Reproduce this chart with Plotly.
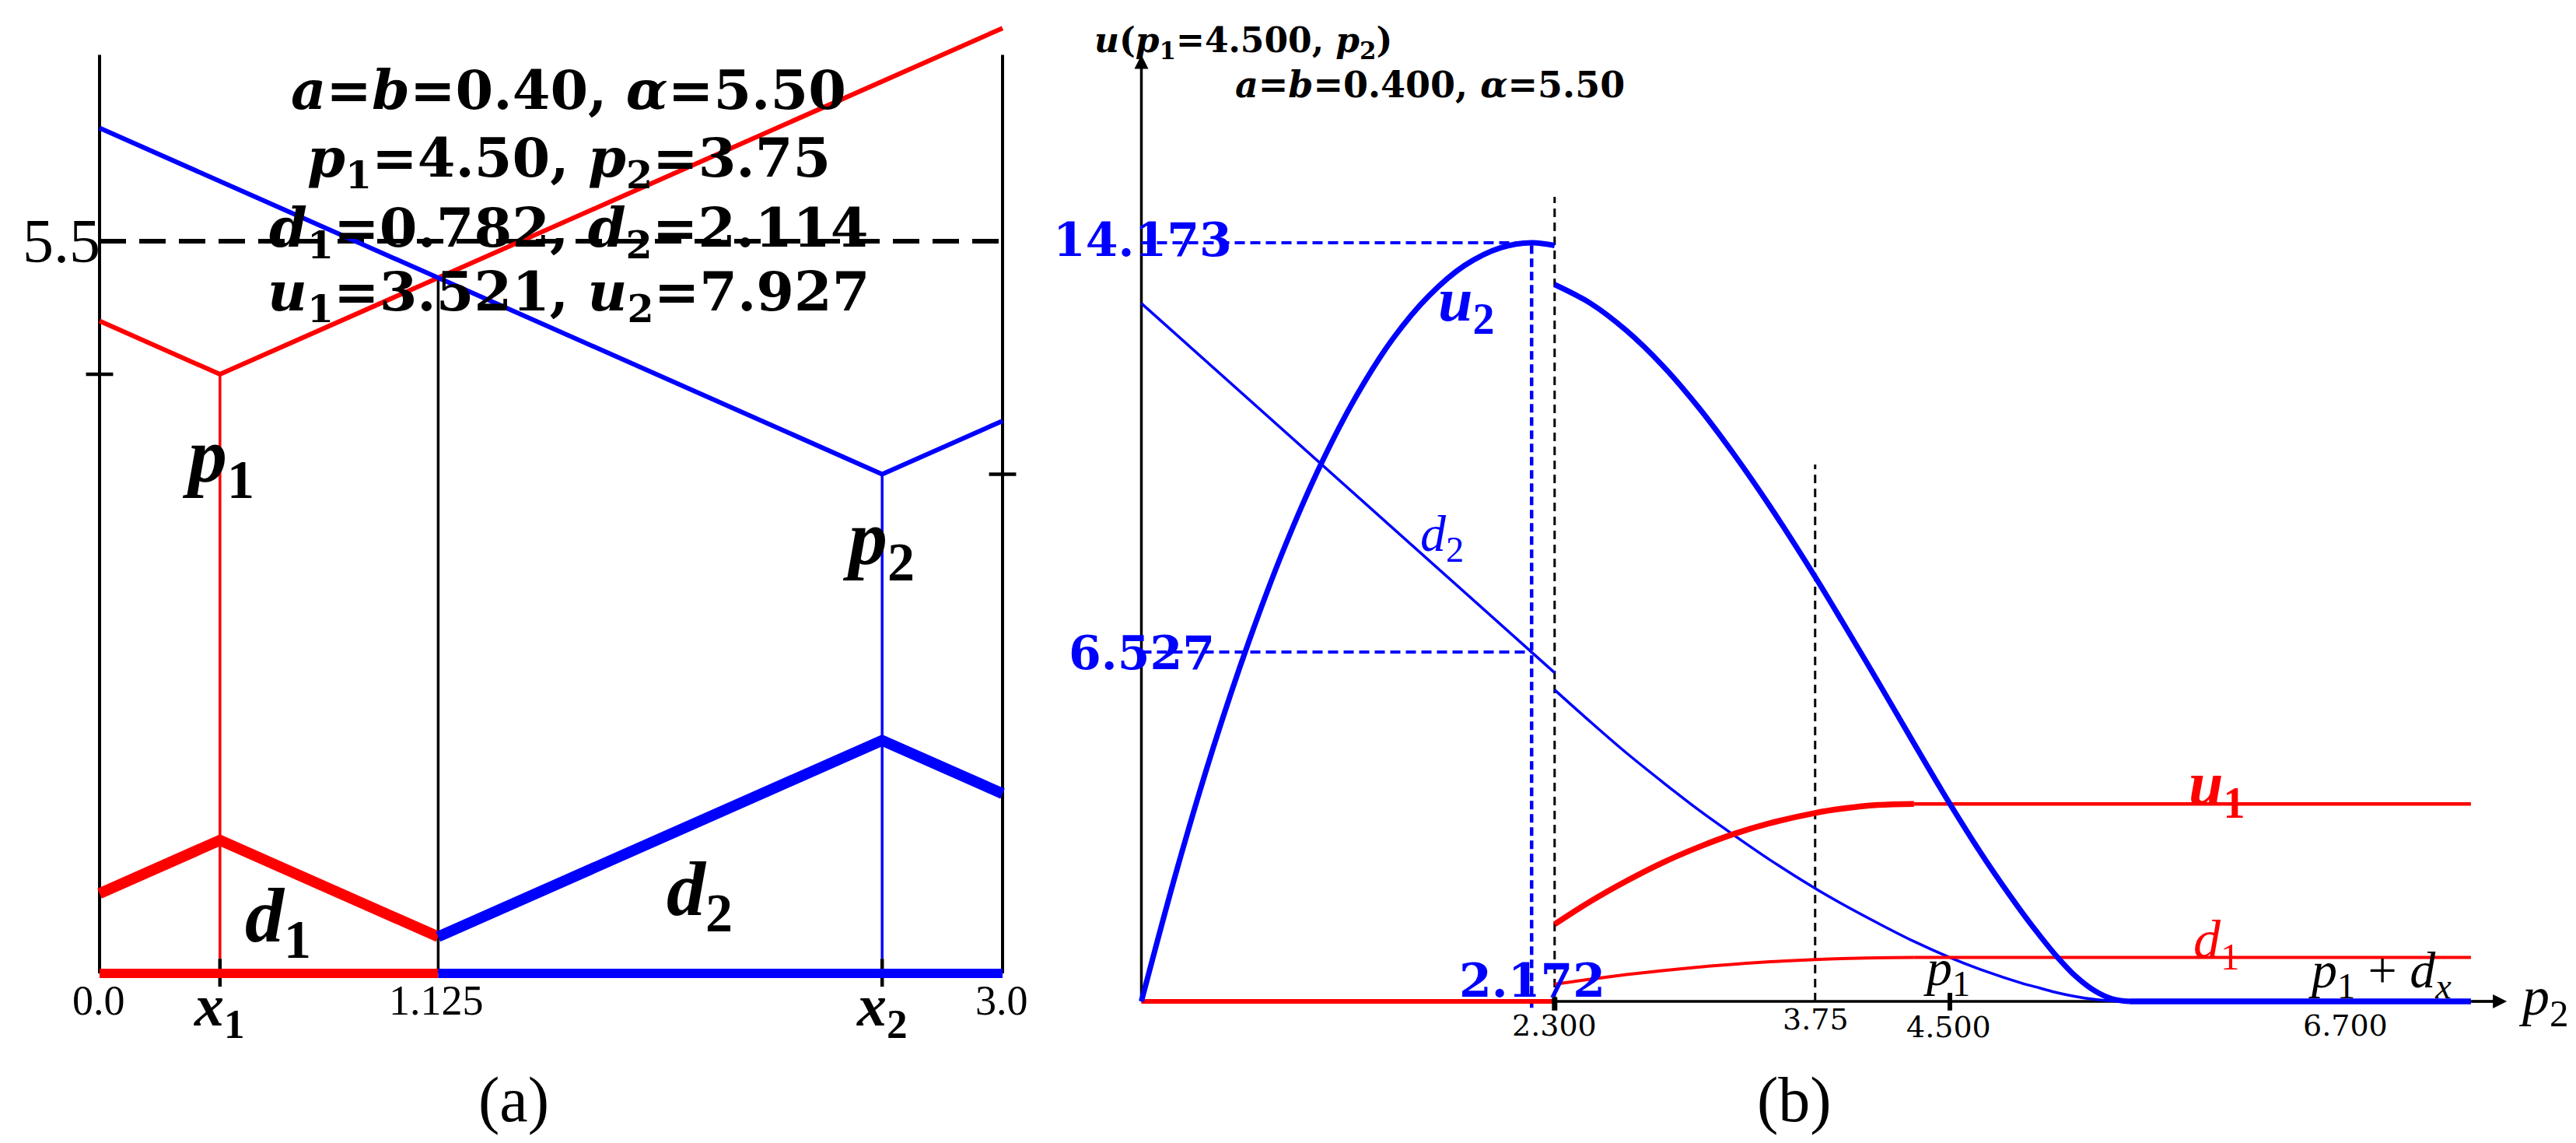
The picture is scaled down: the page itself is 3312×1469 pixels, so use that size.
import plotly.graph_objects as go

W, H = 3312, 1469
RED, BLUE, BLACK = "#ff0000", "#0000ff", "#000000"
SERIF = "Liberation Serif"
BOLDF = "DejaVu Serif"

# ---------------- panel (a) data ----------------
A_X_MIN, A_X_MAX = 0.0, 3.0
A_TOP = 6.9
ALPHA = 5.5
X1, X2 = 0.4, 2.6
P1, P2 = 4.5, 3.75
X_BOUND, Y_BOUND = 1.125, 5.225
PRICE1_X = [0.0, 0.4, 3.0]
PRICE1_Y = [4.9, 4.5, 7.1]
PRICE2_X = [0.0, 2.6, 3.0]
PRICE2_Y = [6.35, 3.75, 4.15]
DEM1_X = [0.0, 0.4, 1.125]
DEM1_Y = [0.6, 1.0, 0.275]
DEM2_X = [1.125, 2.6, 3.0]
DEM2_Y = [0.275, 1.75, 1.35]
A_TICK_VALUES = [0.0, 0.4, 1.125, 2.6, 3.0]
A_TICK_TEXT = ["0.0", "<b><i>x</i><sub>1</sub></b>", "1.125", "<b><i>x</i><sub>2</sub></b>", "3.0"]

# ---------------- panel (b) data ----------------
P2_CUT = 2.3          # undercut price
P2_STAR = 2.172       # argmax of u2
U2_MAX = 14.173
D2_AT_STAR = 6.527
P2_EQ = 3.75
P1_B = 4.5
P_END = 7.4
P_AXIS_END = 7.6
Y_AXIS_END = 17.68
# left branch (firm 2 takes whole market)
P2_A = [0.0, 0.2, 0.4, 0.6, 0.8, 1.0, 1.2, 1.4, 1.6, 1.8, 2.0, 2.172, 2.3]
U2_A = [0.0, 2.49, 4.74, 6.74, 8.51, 10.04, 11.33, 12.38, 13.18, 13.75, 14.08, 14.173, 14.12]
D2_A = [13.04, 12.44, 11.84, 11.24, 10.64, 10.04, 9.44, 8.84, 8.24, 7.64, 7.04, 6.527, 6.14]
# right branch (shared market)
P2_B = [2.3, 2.5, 2.7, 2.9, 3.1, 3.3, 3.5, 3.75, 3.9, 4.1, 4.3, 4.5, 4.7, 4.9, 5.0, 5.1, 5.2, 5.3, 5.4, 5.5]
U2_B = [13.39, 13.04, 12.53, 11.88, 11.10, 10.21, 9.24, 7.93, 7.10, 5.97, 4.82, 3.69, 2.63, 1.67, 1.23, 0.82, 0.47, 0.21, 0.05, 0.0]
D2_B = [5.82, 5.22, 4.64, 4.10, 3.58, 3.10, 2.64, 2.11, 1.82, 1.46, 1.12, 0.82, 0.56, 0.34, 0.25, 0.16, 0.09, 0.04, 0.01, 0.0]
# firm 1
P2_C = [2.3, 2.5, 2.7, 2.9, 3.1, 3.3, 3.5, 3.75, 3.9, 4.1, 4.3]
U1_C = [1.44, 1.87, 2.25, 2.59, 2.88, 3.13, 3.33, 3.52, 3.60, 3.67, 3.69]
D1_C = [0.32, 0.415, 0.50, 0.575, 0.64, 0.695, 0.74, 0.782, 0.80, 0.815, 0.82]
U1_FLAT, D1_FLAT = 3.69, 0.82
B_TICK_VALUES = [2.3, 3.75, 4.5, 6.7]
B_TICK_TEXT = ["2.300", "3.75", "4.500", "6.700"]

fig = go.Figure()


def line(xs, ys, color, width, dash="solid", panel="a", shape="linear"):
    fig.add_trace(go.Scatter(
        x=xs, y=ys, mode="lines",
        line=dict(color=color, width=width, dash=dash, shape=shape),
        xaxis="x" if panel == "a" else "x2",
        yaxis="y" if panel == "a" else "y2",
        hoverinfo="skip", showlegend=False))


# ---------- panel (a) ----------
line([A_X_MIN, A_X_MIN], [0, A_TOP], BLACK, 4)
line([A_X_MAX, A_X_MAX], [0, A_TOP], BLACK, 4)
line([X_BOUND, X_BOUND], [0, Y_BOUND], BLACK, 3.5)
line([A_X_MIN, A_X_MAX], [ALPHA, ALPHA], BLACK, 6, dash="34px,17px")
line([X1, X1], [P1, 0.11], RED, 3.5)
line([X2, X2], [P2, 0.11], BLUE, 3.5)
line([X1, X1], [-0.1, 0.11], BLACK, 4.5)
line([X2, X2], [-0.1, 0.11], BLACK, 4.5)
line([-0.045, 0.045], [P1, P1], BLACK, 4.5)
line([A_X_MAX - 0.045, A_X_MAX + 0.045], [P2, P2], BLACK, 4.5)
line(PRICE1_X, PRICE1_Y, RED, 6)
line(PRICE2_X, PRICE2_Y, BLUE, 6)
line(DEM1_X, DEM1_Y, RED, 14)
line(DEM2_X, DEM2_Y, BLUE, 14)
line([A_X_MIN, X_BOUND], [0, 0], RED, 12)
line([X_BOUND, A_X_MAX], [0, 0], BLUE, 12)

# ---------- panel (b) ----------
line([0, 0], [0, Y_AXIS_END - 0.2], BLACK, 3.5, panel="b")
line([0, P_AXIS_END - 0.05], [0, 0], BLACK, 3.5, panel="b")
line([P2_CUT, P2_CUT], [0, 15.03], BLACK, 3, dash="11px,7px", panel="b")
line([P2_EQ, P2_EQ], [0, 10.03], BLACK, 3, dash="11px,7px", panel="b")
line([0, P2_STAR], [U2_MAX, U2_MAX], BLUE, 4, dash="13px,7px", panel="b")
line([0, P2_STAR], [D2_AT_STAR, D2_AT_STAR], BLUE, 4, dash="13px,7px", panel="b")
line([P2_STAR, P2_STAR], [-0.12, U2_MAX], BLUE, 4.5, dash="11px,6px", panel="b")
line(P2_A, D2_A, BLUE, 3.5, panel="b")
line(P2_B, D2_B, BLUE, 3.5, panel="b", shape="spline")
line([0, P2_CUT], [0, 0], RED, 6, panel="b")
line(P2_C, D1_C, RED, 4, panel="b", shape="spline")
line([P2_C[-1], P_END], [D1_FLAT, D1_FLAT], RED, 4, panel="b")
line(P2_C, U1_C, RED, 7.5, panel="b", shape="spline")
line([P2_C[-1], P_END], [U1_FLAT, U1_FLAT], RED, 4.5, panel="b")
line(P2_A, U2_A, BLUE, 7, panel="b", shape="spline")
line(P2_B, U2_B, BLUE, 7, panel="b", shape="spline")
line([P2_B[-1], P_END], [0, 0], BLUE, 7.5, panel="b")
line([P2_CUT, P2_CUT], [-0.17, 0.08], BLACK, 7, panel="b")
line([P1_B, P1_B], [-0.17, 0.16], BLACK, 6, panel="b")

# axis arrowheads
fig.add_annotation(x=0, y=Y_AXIS_END, ax=0, ay=Y_AXIS_END - 0.6, xref="x2", yref="y2",
                   axref="x2", ayref="y2", showarrow=True, arrowhead=2, arrowsize=1.2,
                   arrowwidth=3, arrowcolor=BLACK, text="")
fig.add_annotation(x=P_AXIS_END, y=0, ax=P_AXIS_END - 0.2, ay=0, xref="x2", yref="y2",
                   axref="x2", ayref="y2", showarrow=True, arrowhead=2, arrowsize=1.2,
                   arrowwidth=3, arrowcolor=BLACK, text="")


def txt(text, px, py, size, color=BLACK, family=SERIF):
    fig.add_annotation(text=text, x=px / W, y=1 - py / H, xref="paper", yref="paper",
                       xanchor="center", yanchor="middle", showarrow=False,
                       font=dict(family=family, size=size, color=color))


# panel (a) texts
txt("<b><i>a</i>=<i>b</i>=0.40, <i>α</i>=5.50</b>", 723, 108, 70, family=BOLDF)
txt("<b><i>p</i><sub>1</sub>=4.50, <i>p</i><sub>2</sub>=3.75</b>", 723, 200, 70, family=BOLDF)
txt("<b><i>d</i><sub>1</sub>=0.782, <i>d</i><sub>2</sub>=2.114</b>", 723, 289, 70, family=BOLDF)
txt("<b><i>u</i><sub>1</sub>=3.521, <i>u</i><sub>2</sub>=7.927</b>", 723, 371, 70, family=BOLDF)
txt("5.5", 71, 302, 80)
txt("<b><i>p</i><sub>1</sub></b>", 272, 585, 100)
txt("<b><i>p</i><sub>2</sub></b>", 1121, 691, 100)
txt("<b><i>d</i><sub>1</sub></b>", 349, 1175, 100)
txt("<b><i>d</i><sub>2</sub></b>", 892, 1141, 100)
A_TICK_PX = [119, 274, 553, 1126, 1280]
for v, t, px in zip(A_TICK_VALUES, A_TICK_TEXT, A_TICK_PX):
    if "<i>" in t:
        txt(t, px, 1290, 76)
    else:
        txt(t, px, 1278, 54)
txt("(a)", 652, 1405, 82)

# panel (b) texts
txt("<b><i>u</i>(<i>p</i><sub>1</sub>=4.500, <i>p</i><sub>2</sub>)</b>", 1590, 47, 44, family=BOLDF)
txt("<b><i>a</i>=<i>b</i>=0.400, <i>α</i>=5.50</b>", 1830, 101, 46, family=BOLDF)
txt("<b>14.173</b>", 1461, 300, 60, BLUE, BOLDF)
txt("<b>6.527</b>", 1460, 831, 60, BLUE, BOLDF)
txt("<b>2.172</b>", 1962, 1252, 60, BLUE, BOLDF)
txt("<b><i>u</i><sub>2</sub></b>", 1878, 383, 80, BLUE)
txt("<i>d</i><sub>2</sub>", 1846, 682, 66, BLUE)
txt("<b><i>u</i><sub>1</sub></b>", 2842, 1005, 80, RED)
txt("<i>d</i><sub>1</sub>", 2842, 1205, 70, RED)
txt("<i>p</i><sub>1</sub>", 2495, 1240, 66)
txt("<i>p</i><sub>1</sub> + <i>d</i><sub><i>x</i></sub>", 3052, 1243, 66)
txt("<i>p</i><sub>2</sub>", 3262, 1278, 70)
B_TICK_PX = [1990, 2326, 2497, 3007]
B_TICK_PY = [1310, 1302, 1312, 1310]
for v, t, px, py in zip(B_TICK_VALUES, B_TICK_TEXT, B_TICK_PX, B_TICK_PY):
    txt(t, px, py, 38, family="DejaVu Serif")
txt("(b)", 2299, 1405, 82)

# axes mapping: panel (a) x_px = 120 + 387 x, y_px = 1243 - 171.1 y
#               panel (b) x_px = 1459.5 + 231 p, y_px = 1279 - 68.8 u
fig.update_layout(
    width=W, height=H, autosize=False,
    margin=dict(l=0, r=0, t=0, b=0, pad=0),
    paper_bgcolor="white", plot_bgcolor="white", showlegend=False,
    xaxis=dict(domain=[0, 0.4], range=[-120 / 387, (0.4 * W - 120) / 387], visible=False),
    yaxis=dict(domain=[0, 1], range=[(1243 - H) / 171.1, 1243 / 171.1], visible=False),
    xaxis2=dict(domain=[0.4, 1], range=[(0.4 * W - 1459.5) / 231, (W - 1459.5) / 231],
                visible=False, anchor="y2"),
    yaxis2=dict(domain=[0, 1], range=[(1279 - H) / 68.8, 1279 / 68.8], visible=False,
                anchor="x2"),
)

fig.write_html("out.html")
